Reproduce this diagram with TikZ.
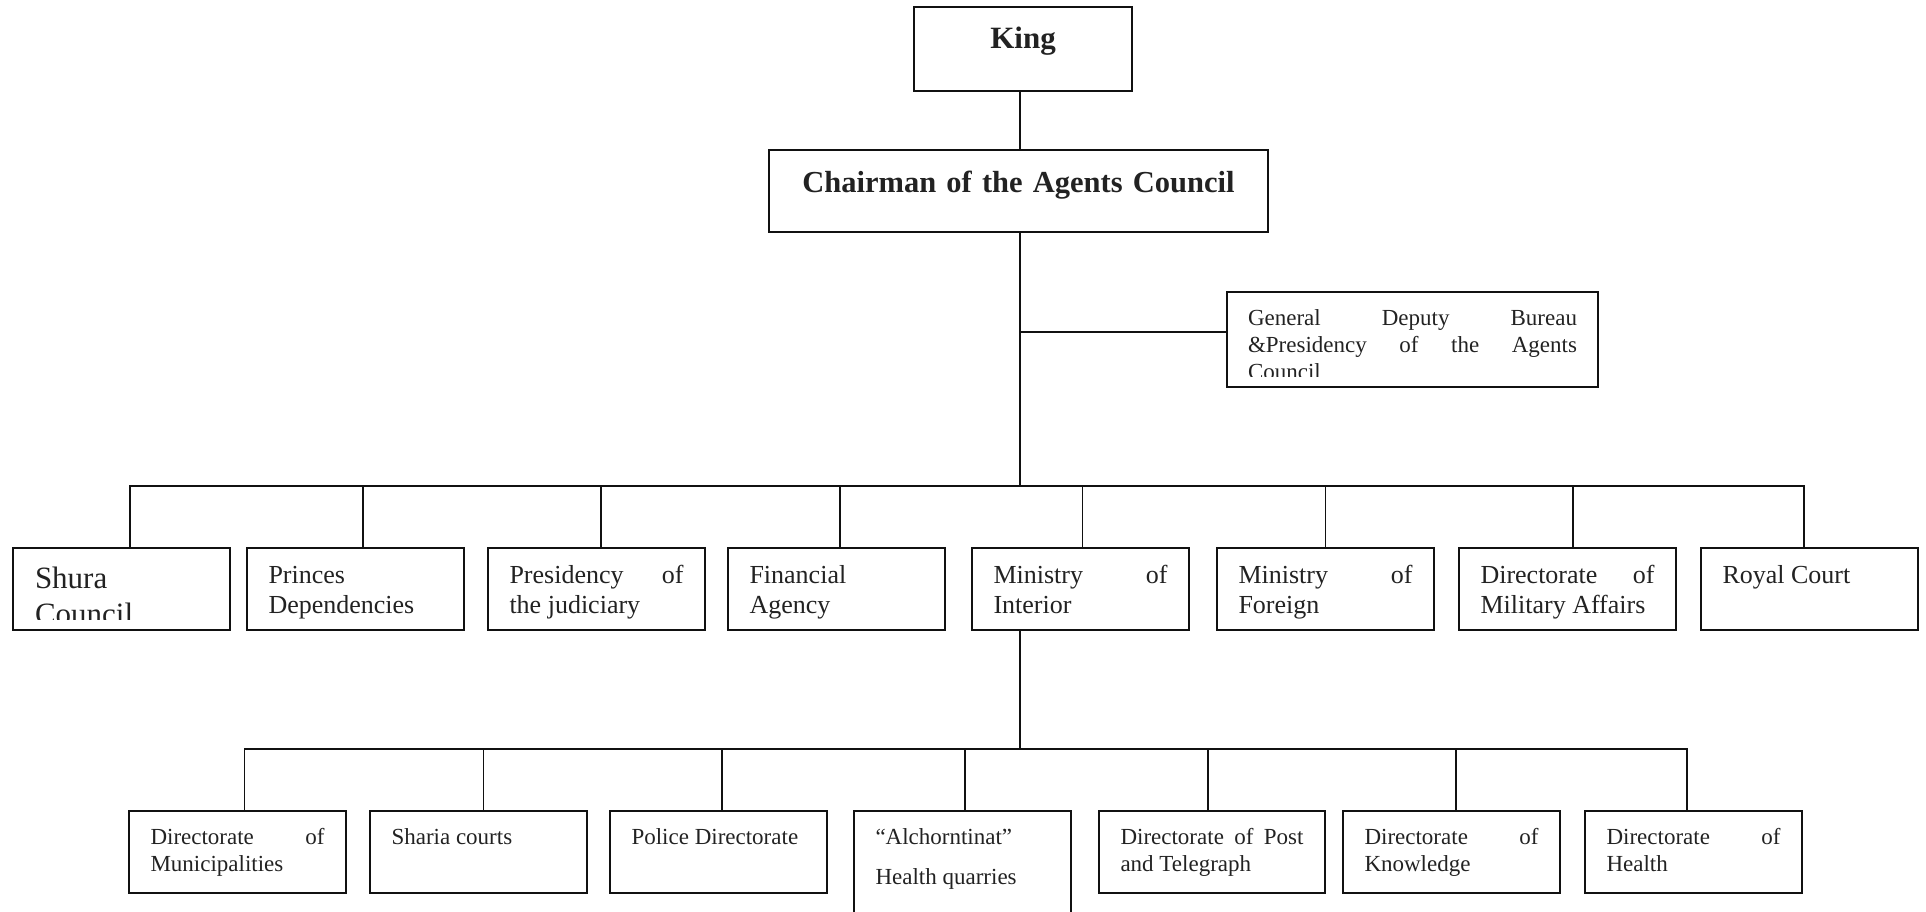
\documentclass[tikz,border=0pt]{standalone}
\usepackage{fontspec}
\setmainfont{Liberation Serif}
\hyphenpenalty=10000
\exhyphenpenalty=10000
\tolerance=10000
\hbadness=10000
\definecolor{txt}{HTML}{222222}
\definecolor{ln}{HTML}{111111}
\begin{document}
\begin{tikzpicture}[x=1pt,y=-1pt,
  every node/.style={inner sep=0pt, outer sep=0pt, text=txt},
  frame/.style={draw=ln, line width=1.8pt, rectangle},
  unitbox/.style={frame, anchor=north west, align=justify, inner xsep=21.5pt, inner ysep=0pt},
  toprow/.style={unitbox, font=\fontsize{26}{30}\selectfont, text width=174pt, text height=35pt, text depth=47pt},
  lowrow/.style={unitbox, font=\fontsize{23}{27}\selectfont, text width=174pt, text height=33pt, text depth=49pt},
  headbox/.style={frame, anchor=north west, align=center, inner xsep=0pt, inner ysep=0pt, font=\fontsize{#1}{36}\selectfont\bfseries},
  plainbox/.style={frame, anchor=north west, minimum width=#1, minimum height=82pt},
  conn/.style={draw=ln, line width=1.8pt, line cap=rect}
]
\clip (0,0) rectangle (1926,912);

% leadership
\node[headbox=31, text width=218pt, text height=42pt, text depth=42pt] (king) at (914,7) {King};
\node[headbox=30.5, text width=499pt, text height=43pt, text depth=39pt] (chair) at (769,150) {Chairman of the Agents Council};

% deputy office (last line cut by the frame)
\begin{scope}
  \clip (1227,292) rectangle (1598,376);
  \node[anchor=north west, align=justify, inner xsep=21pt, font=\fontsize{23}{27}\selectfont,
        text width=329pt, text height=33pt, text depth=62pt] (deputytext) at (1227,292)
    {General Deputy Bureau\linebreak \&Presidency of the Agents\linebreak Council};
\end{scope}
\node[frame, anchor=north west, minimum width=371pt, minimum height=95pt] (deputy) at (1227,292) {};

% first level
\begin{scope}
  \clip (13,548) rectangle (230,619);
  \node[anchor=north west, align=justify, inner xsep=22pt, font=\fontsize{31}{36}\selectfont,
        text width=173pt, text height=40pt, text depth=42pt] (shuratext) at (13,548) {Shura\\Council};
\end{scope}
\node[plainbox=217pt] (shura) at (13,548) {};
\node[toprow] (princes) at (247,548) {Princes\\Dependencies};
\node[toprow] (judic) at (488,548) {Presidency of\linebreak the judiciary};
\node[toprow] (fin) at (728,548) {Financial\\Agency};
\node[toprow] (mint) at (972,548) {Ministry of\linebreak Interior};
\node[toprow] (mfor) at (1217,548) {Ministry of\linebreak Foreign};
\node[toprow] (mil) at (1459,548) {Directorate of\linebreak Military Affairs};
\node[toprow] (royal) at (1701,548) {Royal Court};

% second level, under the Ministry of Interior
\node[lowrow] (muni) at (129,811) {Directorate of\linebreak Municipalities};
\node[lowrow] (sharia) at (370,811) {Sharia courts};
\node[lowrow] (police) at (610,811) {Police Directorate};
\node[lowrow, text depth=100pt] (alch) at (854,811) {“Alchorntinat”\\[13pt]Health quarries};
\node[lowrow, text width=183pt] (post) at (1099,811) {Directorate of Post\linebreak and Telegraph};
\node[lowrow] (know) at (1343,811) {Directorate of\linebreak Knowledge};
\node[lowrow] (health) at (1585,811) {Directorate of\linebreak Health};

% spine and junctions
\coordinate (hub1) at (1020,486);
\coordinate (hub2) at (1020,749);
\coordinate (tee) at (1020,332);

\draw[conn] (king.south -| hub1) -- (chair.north -| hub1);
\draw[conn] (chair.south -| hub1) -- (hub1);
\draw[conn] (tee) -- (tee -| deputy.west);

\foreach \n/\dx in {shura/8.5, princes/7.5, judic/4.5, fin/3.5, mint/2, mfor/0, mil/5.5, royal/-5.5} {
  \coordinate (\n-in) at ([xshift=\dx pt]\n.north);
  \draw[conn] (\n-in) -- (\n-in |- hub1);
}
\draw[conn] (shura-in |- hub1) -- (royal-in |- hub1);

\draw[conn] (mint.south -| hub2) -- (hub2);
\foreach \n/\dx in {muni/7, sharia/5, police/3.5, alch/2.5, post/-4, know/4.5, health/-6.5} {
  \coordinate (\n-in) at ([xshift=\dx pt]\n.north);
  \draw[conn] (\n-in) -- (\n-in |- hub2);
}
\draw[conn] (muni-in |- hub2) -- (health-in |- hub2);
\end{tikzpicture}
\end{document}
